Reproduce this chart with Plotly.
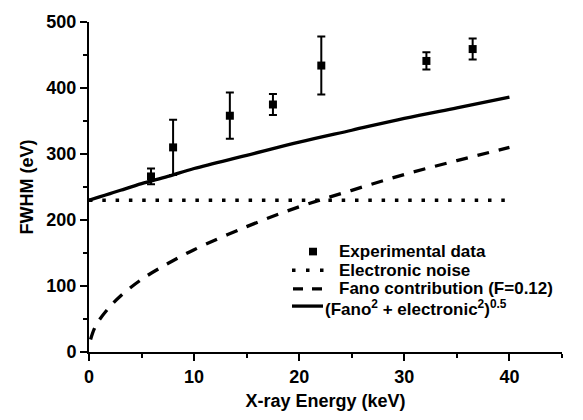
import plotly.graph_objects as go

# Measured detector resolution at each X-ray line
energy_kev = [5.9, 8.0, 13.4, 17.5, 22.1, 32.1, 36.5]
fwhm_ev = [266, 310, 358, 375, 434, 441, 459]
fwhm_err = [12, 42, 35, 16, 44, 13, 16]

# Electronic noise floor
noise_e = [0, 40]
noise_fwhm = [230, 230]

# Fano-limited contribution (F = 0.12)
fano_e = [0.15, 0.5, 1, 2, 3, 5, 7.5, 10, 15, 20, 25, 30, 35, 40]
fano_fwhm = [19, 35, 49, 69, 85, 110, 134, 155, 190, 220, 245, 269, 290, 310]

# Quadrature sum of Fano and electronic terms
total_e = [0, 1, 2, 3, 5, 7.5, 10, 15, 20, 25, 30, 35, 40]
total_fwhm = [230, 235, 240, 245, 255, 266, 278, 298, 318, 336, 354, 370, 386]

# Axis ticks
x_ticks = [0, 10, 20, 30, 40]
y_ticks = [0, 100, 200, 300, 400, 500]

# Legend entries (drawn as a key panel inside the plot)
legend_labels = [
    "Experimental data",
    "Electronic noise",
    "Fano contribution (F=0.12)",
    "(Fano<sup>2</sup> + electronic<sup>2</sup>)<sup>0.5</sup>",
]

FONT = "Liberation Sans, Arial, sans-serif"
W, H = 583, 420
ML, MR, MT, MB = 89, 21, 15, 60
PW, PH = W - ML - MR, H - MT - MB


def px(xp):
    return (xp - ML) / PW


def py(yp):
    return (H - MB - yp) / PH


fig = go.Figure()

fig.add_trace(go.Scatter(
    x=noise_e, y=noise_fwhm, mode="lines", name=legend_labels[1],
    line=dict(color="black", width=3.5, dash="3.5px,9.8px"),
))
fig.add_trace(go.Scatter(
    x=fano_e, y=fano_fwhm, mode="lines", name=legend_labels[2],
    line=dict(color="black", width=3.3, dash="12px,10px", shape="spline"),
))
fig.add_trace(go.Scatter(
    x=total_e, y=total_fwhm, mode="lines", name=legend_labels[3],
    line=dict(color="black", width=3.3, shape="spline"),
))
fig.add_trace(go.Scatter(
    x=energy_kev, y=fwhm_ev, mode="markers", name=legend_labels[0],
    marker=dict(symbol="square", size=8, color="black"),
    error_y=dict(type="data", array=fwhm_err, visible=True,
                 color="black", thickness=2, width=4),
))

tick_font = dict(family=FONT, size=18, color="black", weight="bold")
title_font = dict(family=FONT, size=18, color="black", weight="bold")

axis_common = dict(
    showline=True, linecolor="black", linewidth=2,
    ticks="outside", ticklen=7, tickwidth=2, tickcolor="black",
    showgrid=False, zeroline=False, tickfont=tick_font,
)

fig.update_xaxes(
    range=[0, 45], tickvals=x_ticks, ticktext=[f"<b>{v}</b>" for v in x_ticks],
    minor=dict(ticks="outside", ticklen=4, tickwidth=2, tickcolor="black",
               tickvals=[5, 15, 25, 35, 45]),
    title=dict(text="<b>X-ray Energy (keV)</b>", standoff=9, font=title_font),
    **axis_common,
)
fig.update_yaxes(
    range=[0, 500], tickvals=y_ticks, ticktext=[f"<b>{v}</b>" for v in y_ticks],
    minor=dict(ticks="outside", ticklen=4, tickwidth=2, tickcolor="black",
               tickvals=[50, 150, 250, 350, 450]),
    title=dict(text="<b>FWHM (eV)</b>", standoff=8, font=title_font),
    **axis_common,
)

# Key panel: symbols and labels
row_y = [255, 274.5, 294, 314]
text_x = [338, 338, 338, 324]
shapes = [
    dict(type="rect", xref="paper", yref="paper",
         x0=px(309), x1=px(317), y0=py(row_y[0] + 4), y1=py(row_y[0] - 4),
         fillcolor="black", line=dict(width=0)),
    dict(type="line", xref="paper", yref="paper",
         x0=px(292), x1=px(326), y0=py(row_y[1]), y1=py(row_y[1]),
         line=dict(color="black", width=3.5, dash="3.5px,10.5px")),
    dict(type="line", xref="paper", yref="paper",
         x0=px(293), x1=px(322), y0=py(row_y[2]), y1=py(row_y[2]),
         line=dict(color="black", width=3.3, dash="10px,9px")),
    dict(type="line", xref="paper", yref="paper",
         x0=px(292), x1=px(323), y0=py(row_y[3] - 2), y1=py(row_y[3] - 2),
         line=dict(color="black", width=3.3)),
]
annotations = [
    dict(text=f"<b>{lbl}</b>", xref="paper", yref="paper",
         x=px(tx), y=py(ty), xanchor="left", yanchor="middle",
         showarrow=False, borderpad=0,
         font=dict(family=FONT, size=17, color="black", weight="bold"))
    for lbl, tx, ty in zip(legend_labels, text_x, row_y)
]

fig.update_layout(
    width=W, height=H,
    margin=dict(l=ML, r=MR, t=MT, b=MB),
    paper_bgcolor="white", plot_bgcolor="white",
    font=dict(family=FONT, color="black"),
    showlegend=False,
    shapes=shapes,
    annotations=annotations,
)

fig.write_html("out.html")
